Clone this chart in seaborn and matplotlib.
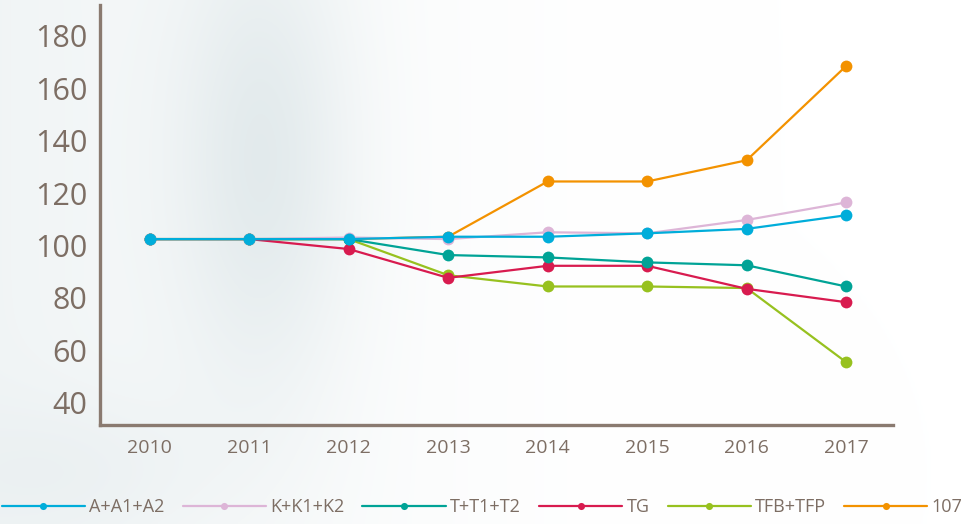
import numpy as np
import pandas as pd
import matplotlib
matplotlib.use("Agg")
import matplotlib.pyplot as plt
import seaborn as sns

years = ["2010", "2011", "2012", "2013", "2014", "2015", "2016", "2017"]
series_names = ["A+A1+A2", "K+K1+K2", "T+T1+T2", "TG", "TFB+TFP", "107"]
a_vals = [102.4, 102.4, 102.4, 103.3, 103.3, 104.6, 106.3, 111.5]
k_vals = [102.4, 102.4, 103.0, 102.4, 105.0, 104.6, 109.7, 116.4]
t_vals = [102.4, 102.4, 102.4, 96.3, 95.4, 93.5, 92.4, 84.3]
tg_vals = [102.4, 102.4, 98.6, 87.6, 92.2, 92.2, 83.4, 78.3]
tfb_vals = [102.4, 102.4, 102.4, 88.6, 84.3, 84.3, 83.7, 55.4]
v107_vals = [102.4, 102.4, 102.4, 103.3, 124.4, 124.4, 132.5, 168.5]
colors = ["#00ADDA", "#DDB5D7", "#00A396", "#D81B4F", "#97C11F", "#F39200"]
yticks = [40, 60, 80, 100, 120, 140, 160, 180]

all_vals = [a_vals, k_vals, t_vals, tg_vals, tfb_vals, v107_vals]
rows = []
for name, vals in zip(series_names, all_vals):
    for i, (yr, v) in enumerate(zip(years, vals)):
        rows.append({"pos": i, "year": yr, "series": name, "value": v})
df = pd.DataFrame(rows)

sns.set_theme(style="white")
plt.rcParams["font.family"] = ["Open Sans", "DejaVu Sans"]
text_col = "#7D6E64"
spine_col = "#8A7A70"

fig = plt.figure(figsize=(9.78, 5.24), dpi=100)

# background soft gradient (blurred photo look)
bg = fig.add_axes([0, 0, 1, 1], zorder=-10)
h, w = 262, 489
yy, xx = np.mgrid[0:h, 0:w]
xf = xx / w
yf = yy / h
base = np.clip(1.0 - xf * 1.5, 0, 1) ** 1.3
band = np.exp(-(((xf - 0.27) / 0.09) ** 2 + ((yf - 0.3) / 0.45) ** 2))
spot2 = np.exp(-(((xf - 0.08) / 0.15) ** 2 + ((yf - 0.9) / 0.15) ** 2))
dark = np.clip(0.05 * base + 0.075 * band + 0.025 * spot2, 0, 0.2)
img = np.zeros((h, w, 3))
img[..., 0] = 1 - dark * 1.1
img[..., 1] = 1 - dark * 0.8
img[..., 2] = 1 - dark * 0.72
bg.imshow(np.clip(img, 0, 1), aspect="auto", interpolation="bicubic")
bg.axis("off")

ax = fig.add_axes([0.1022, 0.1889, 0.8108, 0.8016])
ax.patch.set_alpha(0)

for name, col in reversed(list(zip(series_names, colors))):
    sub = df[df["series"] == name]
    sns.lineplot(data=sub, x="pos", y="value", ax=ax, color=col, marker="o",
                 markersize=8.5, markeredgewidth=0, linewidth=1.6, label=name,
                 legend=False)

ax.set_xlim(-0.5, 7.47)
ax.set_ylim(31.4, 191.8)
ax.set_xticks(range(len(years)))
ax.set_xticklabels(years)
ax.set_yticks(yticks)
ax.set_yticklabels([str(t) for t in yticks])
ax.set_xlabel("")
ax.set_ylabel("")
ax.tick_params(axis="y", length=0, pad=9, labelsize=22, labelcolor=text_col)
ax.tick_params(axis="x", length=0, pad=10, labelsize=14, labelcolor=text_col)
for s in ["top", "right"]:
    ax.spines[s].set_visible(False)
for s in ["left", "bottom"]:
    ax.spines[s].set_color(spine_col)
    ax.spines[s].set_linewidth(2.4)
ax.grid(False)

handles, labels = ax.get_legend_handles_labels()
order = [labels.index(n) for n in series_names]
leg = fig.legend([handles[i] for i in order], [labels[i] for i in order],
                 loc="center", bbox_to_anchor=(0.493, 0.032), ncol=6,
                 frameon=False, fontsize=13, handlelength=4.6,
                 handletextpad=0.25, columnspacing=1.0, markerscale=0.6,
                 labelcolor=text_col)

fig.savefig("out.png", dpi=100)
